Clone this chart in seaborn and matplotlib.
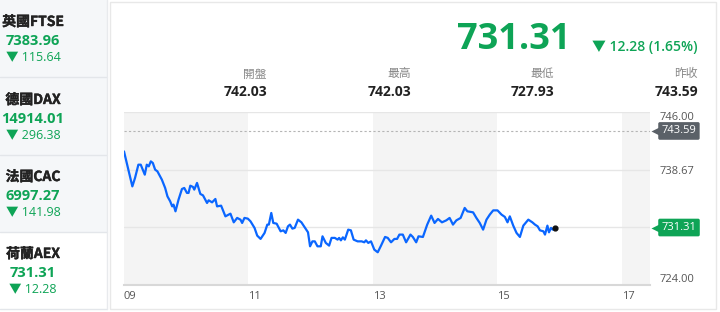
import matplotlib
matplotlib.use("Agg")
import matplotlib.pyplot as plt
import matplotlib.patheffects as pe
import numpy as np
import pandas as pd
import seaborn as sns
from matplotlib.patches import Rectangle

# ---------------- data ----------------
days = [9.000, 9.069, 9.134, 9.177, 9.231, 9.269, 9.334, 9.366, 9.398, 9.431,
        9.463, 9.500, 9.537, 9.608, 9.661, 9.698, 9.742, 9.774, 9.795, 9.827,
        9.876, 9.931, 9.968, 10.011, 10.037, 10.065, 10.108, 10.129, 10.173, 10.226,
        10.269, 10.334, 10.360, 10.415, 10.468, 10.495, 10.560, 10.629, 10.682, 10.710,
        10.763, 10.818, 10.871, 10.898, 10.935, 10.989, 11.032, 11.097, 11.140, 11.194,
        11.258, 11.302, 11.327, 11.366, 11.398, 11.452, 11.516, 11.560, 11.597, 11.634,
        11.666, 11.705, 11.742, 11.795, 11.850, 11.892, 11.956, 11.989, 12.027, 12.065,
        12.108, 12.161, 12.189, 12.242, 12.295, 12.334, 12.387, 12.431, 12.456, 12.484,
        12.516, 12.548, 12.602, 12.645, 12.689, 12.753, 12.818, 12.860, 12.887, 12.924,
        12.968, 13.021, 13.076, 13.129, 13.194, 13.237, 13.290, 13.344, 13.387, 13.424,
        13.479, 13.532, 13.602, 13.640, 13.694, 13.731, 13.802, 13.871, 13.935, 13.989,
        14.044, 14.108, 14.177, 14.231, 14.285, 14.339, 14.408, 14.473, 14.516, 14.608,
        14.661, 14.715, 14.769, 14.823, 14.876, 14.931, 15.000, 15.065, 15.118, 15.161,
        15.198, 15.253, 15.306, 15.360, 15.415, 15.495, 15.560, 15.602, 15.645, 15.682,
        15.737, 15.763, 15.802, 15.827, 15.860, 15.887, 15.924]
values = [740.99, 738.67, 736.54, 737.61, 739.30, 739.30, 738.03, 739.30, 739.09, 739.72,
          739.52, 738.67, 738.45, 737.40, 736.34, 735.27, 734.64, 734.00, 734.22, 733.37,
          734.85, 736.21, 736.34, 735.71, 735.71, 736.63, 736.47, 736.13, 736.98, 735.58,
          735.40, 734.43, 734.77, 734.51, 734.94, 734.00, 734.09, 732.73, 732.95, 733.07,
          731.97, 732.53, 732.31, 731.89, 732.53, 732.44, 732.10, 731.26, 730.28, 729.86,
          730.62, 731.68, 731.68, 733.16, 731.89, 731.80, 730.83, 730.95, 730.62, 731.46,
          731.68, 731.17, 731.26, 732.31, 731.97, 731.46, 730.70, 728.92, 729.55, 729.55,
          728.92, 728.92, 730.19, 729.35, 729.01, 729.99, 729.99, 729.77, 729.99, 729.68,
          730.06, 729.77, 731.04, 730.95, 729.77, 729.55, 729.55, 729.43, 729.68, 729.35,
          729.55, 728.50, 728.16, 729.01, 730.11, 729.99, 729.43, 729.86, 729.86, 730.41,
          730.41, 729.43, 730.41, 730.11, 729.43, 730.19, 730.11, 731.68, 732.82, 731.89,
          732.40, 731.97, 732.22, 732.53, 731.68, 732.22, 732.53, 733.80, 733.37, 733.24,
          732.53, 731.89, 731.04, 732.31, 732.95, 733.49, 733.49, 732.95, 732.66, 731.97,
          732.73, 731.55, 730.62, 730.11, 731.55, 732.31, 731.97, 731.68, 731.46, 730.95,
          730.83, 730.41, 731.55, 730.70, 731.26, 731.04, 731.31]

x_ticks = [9, 11, 13, 15, 17]
x_tick_labels = ["09", "11", "13", "15", "17"]
y_ticks = [724.00, 731.33, 738.67, 746.00]
y_tick_labels = ["724.00", "", "738.67", "746.00"]
x_range = (9.0, 17.45)
y_range = (724.0, 746.0)
shade_ranges = [(9, 11), (13, 15), (17, 17.45)]
prev_close = 743.59
last_value = 731.31

sidebar_names = ["英國FTSE", "德國DAX", "法國CAC", "荷蘭AEX"]
sidebar_values = ["7383.96", "14914.01", "6997.27", "731.31"]
sidebar_changes = ["115.64", "296.38", "141.98", "12.28"]

stat_labels = ["開盤", "最高", "最低", "昨收"]
stat_values = ["742.03", "742.03", "727.93", "743.59"]
headline_value = "731.31"
headline_change = "12.28 (1.65%)"

# ---------------- style ----------------
sns.set_style("white")
FONTS = ["Open Sans", "Noto Sans CJK TC", "DejaVu Sans"]
CJK_FONTS = ["Noto Sans CJK TC", "DejaVu Sans"]
plt.rcParams["font.family"] = FONTS

GREEN = "#0ea456"
BLUE = "#0a66ff"
DARK = "#222222"
GRAY = "#8a8a8a"
TAG_GRAY = "#5b6168"

W, H = 720, 312
fig = plt.figure(figsize=(7.2, 3.12), dpi=100)
fig.patch.set_facecolor("white")

def fx(x):
    return x / W

def fy(y):
    return 1 - y / H

# outer frame / panels
fig.patches.append(Rectangle((fx(110), fy(309)), fx(716) - fx(110), fy(2) - fy(309),
                             transform=fig.transFigure, fc="white", ec="#e8e8e8", lw=1, zorder=-2))
item_tops = [0, 78, 155, 232]
item_h = 77
for i, top in enumerate(item_tops):
    fc = "white" if i == 3 else "#f5f7f9"
    fig.patches.append(Rectangle((0, fy(top + item_h)), fx(107), item_h / H,
                                 transform=fig.transFigure, fc=fc, ec="none", zorder=-2))
    fig.add_artist(plt.Line2D([0, fx(107)], [fy(top + item_h), fy(top + item_h)],
                              transform=fig.transFigure, color="#e3e6ea", lw=1, zorder=-1))
fig.add_artist(plt.Line2D([fx(107), fx(107)], [fy(0), fy(309)],
                          transform=fig.transFigure, color="#e8eaed", lw=1, zorder=-1))

bold_fx = [pe.withStroke(linewidth=0.3, foreground=DARK)]

# sidebar texts
for i, top in enumerate(item_tops):
    fig.text(fx(33), fy(top + 22), sidebar_names[i], ha="center", va="center",
             fontsize=10, fontweight="bold", color=DARK, family=CJK_FONTS,
             path_effects=bold_fx)
    fig.text(fx(33), fy(top + 41), sidebar_values[i], ha="center", va="center",
             fontsize=10.5, fontweight="bold", color=GREEN, family=FONTS)
    fig.text(fx(33), fy(top + 58), "▼ " + sidebar_changes[i], ha="center", va="center",
             fontsize=9, color=GREEN, family=FONTS)

# headline
fig.text(fx(570), fy(40), headline_value, ha="right", va="center",
         fontsize=26, fontweight="bold", color=GREEN, family=FONTS)
fig.text(fx(698), fy(47), "▼ " + headline_change, ha="right", va="center",
         fontsize=10, fontweight="semibold", color=GREEN, family=FONTS)

stat_right = [267, 411, 554, 698]
for lab, val, xr in zip(stat_labels, stat_values, stat_right):
    fig.text(fx(xr), fy(74), lab, ha="right", va="center", fontsize=8.5,
             color=GRAY, family=CJK_FONTS)
    fig.text(fx(xr), fy(92), val, ha="right", va="center", fontsize=10,
             fontweight="bold", color=DARK, family=FONTS)

# ---------------- chart ----------------
ax = fig.add_axes([fx(124), fy(285), fx(650) - fx(124), fy(112) - fy(285)])
ax.set_zorder(2)
ax.set_facecolor("white")
for a, b in shade_ranges:
    ax.axvspan(a, b, color="#f4f4f4", lw=0, zorder=0)

df = pd.DataFrame({"day": days, "value": values})
sns.lineplot(data=df, x="day", y="value", ax=ax, color=BLUE, lw=1.6, zorder=3)
ax.scatter([days[-1]], [values[-1]], s=12, color="#111111", zorder=4)

ax.axhline(prev_close, color="#b5b5b5", lw=0.8, ls=(0, (2, 2)), zorder=2)

ax.set_xlim(*x_range)
ax.set_ylim(*y_range)
ax.set_xticks(x_ticks)
ax.set_xticklabels(x_tick_labels)
ax.set_yticks(y_ticks)
ax.set_yticklabels(y_tick_labels)
ax.yaxis.tick_right()
ax.grid(axis="y", color="#e6e6e6", lw=1)
ax.set_axisbelow(True)
ax.set_xlabel("")
ax.set_ylabel("")
for s in ["top", "left", "right"]:
    ax.spines[s].set_visible(False)
ax.spines["bottom"].set_color("#d8d8d8")
ax.spines["bottom"].set_linewidth(1.5)
ax.tick_params(axis="x", length=0, pad=4, labelsize=8, labelcolor="#555555")
ax.tick_params(axis="y", length=0, pad=7, labelsize=8, labelcolor="#555555")
for lab in ax.get_xticklabels():
    lab.set_horizontalalignment("left")
ylabs = ax.get_yticklabels()
ylabs[-1].set_verticalalignment("top")
ylabs[0].set_verticalalignment("bottom")

# value tags on the right
ytr = ax.get_yaxis_transform()
for val, col in [(prev_close, TAG_GRAY), (last_value, GREEN)]:
    ax.plot([1.0115], [val], marker="<", ms=6.5, color=col, mec="none",
            transform=ytr, clip_on=False, zorder=6)
    ax.text(1.022, val, f"{val:.2f}", transform=ytr, ha="left", va="center",
            fontsize=8, color="white", zorder=7, clip_on=False,
            bbox=dict(boxstyle="round,pad=0.3,rounding_size=0.15", fc=col, ec="none"))

fig.savefig("out.png", dpi=100)
